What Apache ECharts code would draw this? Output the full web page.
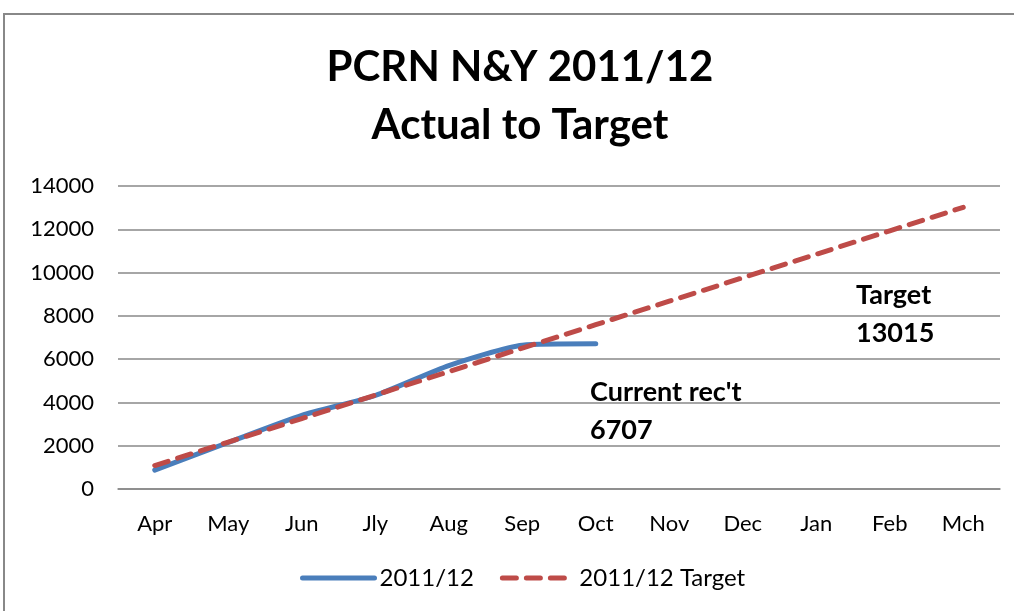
<!DOCTYPE html>
<html><head><meta charset="utf-8">
<script src="https://cdn.jsdelivr.net/npm/echarts@6/dist/echarts.min.js"></script>
<style>html,body{margin:0;padding:0;background:#fff}#c{width:1014px;height:611px}</style>
</head><body><div id="c"></div>
<script>
const categories = ['Apr','May','Jun','Jly','Aug','Sep','Oct','Nov','Dec','Jan','Feb','Mch'];
const actual = [870, 2150, 3400, 4320, 5700, 6640, 6707, null, null, null, null, null];
const target = [1085, 2170, 3254, 4339, 5423, 6508, 7592, 8677, 9761, 10846, 11930, 13015];
const yTicks = [0, 2000, 4000, 6000, 8000, 10000, 12000, 14000];
const titleLines = ['PCRN N&Y 2011/12', 'Actual to Target'];
const FONT = 'Lato, "Open Sans", sans-serif';
const chart = echarts.init(document.getElementById('c'), null, {renderer: 'canvas'});
chart.setOption({
  animation: false,
  backgroundColor: '#fff',
  grid: {left: 118, right: 14, top: 186, bottom: 122},
  xAxis: {
    type: 'category', data: categories, boundaryGap: true,
    axisLine: {lineStyle: {color: '#888', width: 1.5}},
    axisTick: {show: false},
    axisLabel: {fontFamily: FONT, fontSize: 22, color: '#000', margin: 24}
  },
  yAxis: {
    type: 'value', min: yTicks[0], max: yTicks[yTicks.length - 1], interval: 2000,
    axisLine: {show: false}, axisTick: {show: false},
    splitLine: {lineStyle: {color: '#888', width: 1.5}},
    axisLabel: {fontFamily: FONT, fontSize: 22, color: '#000', margin: 24, formatter: v => String(v)}
  },
  legend: {
    bottom: 16, left: 295, itemWidth: 72, itemHeight: 14, itemGap: 26,
    textStyle: {fontFamily: FONT, fontSize: 24, color: '#000'},
    itemStyle: {opacity: 0},
    lineStyle: {width: 5},
    data: ['2011/12', '2011/12 Target']
  },
  series: [
    {name: '2011/12', type: 'line', data: actual, symbol: 'none', smooth: 0.2,
     lineStyle: {color: '#4A7EBB', width: 5, cap: 'round'}, itemStyle: {color: '#4A7EBB'}},
    {name: '2011/12 Target', type: 'line', data: target, symbol: 'none',
     lineStyle: {color: '#BE4B48', width: 5, type: [14, 10], cap: 'round'}, itemStyle: {color: '#BE4B48'}}
  ],
  graphic: [
    {type: 'rect', shape: {x: 4, y: 14, width: 1040, height: 640}, style: {fill: 'none', stroke: '#888', lineWidth: 2}, silent: true},
    {type: 'text', x: 520, y: 67, style: {text: titleLines[0], textAlign: 'center', textVerticalAlign: 'middle', fontFamily: FONT, fontWeight: 'bold', fontSize: 42, fill: '#000'}},
    {type: 'text', x: 520, y: 125, style: {text: titleLines[1], textAlign: 'center', textVerticalAlign: 'middle', fontFamily: FONT, fontWeight: 'bold', fontSize: 42, fill: '#000'}},
    {type: 'text', left: 590, top: 373, style: {text: "Current rec't\n6707", fontFamily: FONT, fontWeight: 'bold', fontSize: 27, lineHeight: 38, fill: '#000'}},
    {type: 'text', left: 856, top: 276, style: {text: 'Target\n13015', fontFamily: FONT, fontWeight: 'bold', fontSize: 27, lineHeight: 38, fill: '#000'}}
  ]
});
</script></body></html>
